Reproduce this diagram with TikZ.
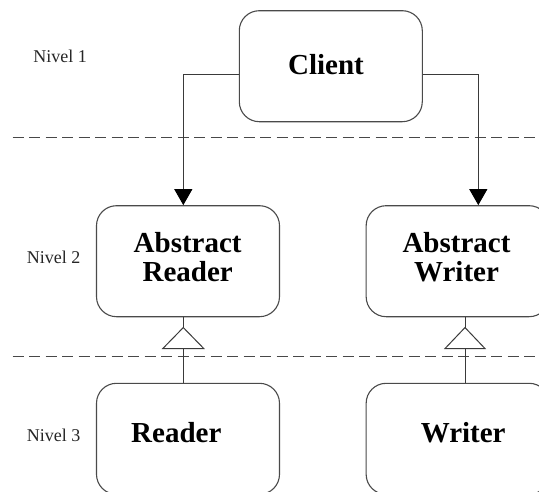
\documentclass[tikz,border=0pt]{standalone}
\usepackage{fontspec}
\setmainfont{Liberation Serif}
\usetikzlibrary{arrows.meta}
\definecolor{lc}{HTML}{3A3A3A}
\definecolor{bc}{HTML}{4A4A4A}
\definecolor{dc}{HTML}{484848}
\tikzset{
  box/.style={draw=bc, line width=1.1pt, rounded corners=20pt, minimum width=183pt, minimum height=111pt, inner sep=0pt},
  btext/.style={font=\fontsize{29}{29.4}\selectfont\bfseries, align=center, inner sep=0pt},
  lvl/.style={font=\fontsize{18}{20}\selectfont, text=black!85, inner sep=0pt, anchor=base west},
  conn/.style={draw=lc, line width=1pt},
  arr/.style={conn, -{Triangle[length=16pt,width=18pt,color=black]}},
  sep/.style={draw=dc, line width=1.3pt, dash pattern=on 11pt off 5.5pt},
}
\begin{document}
\begin{tikzpicture}[x=1pt,y=-1pt]
\clip (0,0) rectangle (539,491);
\fill[white] (0,0) rectangle (539,491);
% separators
\coordinate (s1a) at (12.7,137.3);
\coordinate (s1b) at (539,137.3);
\coordinate (s2a) at (12.7,356.7);
\coordinate (s2b) at (539,356.7);
\draw[sep] (s1a) -- (s1b);
\draw[sep] (s2a) -- (s2b);
% level labels
\node[lvl] (n1) at (33.3,62.3) {Nivel 1};
\node[lvl] (n2) at (26.7,263.3) {Nivel 2};
\node[lvl] (n3) at (26.7,441.7) {Nivel 3};
% boxes
\node[box] (client) at (330.8,66.2) {};
\node[box] (areader) at (188,261.2) {};
\node[box] (awriter) at (457.65,261.2) {};
\node[box] (reader) at (188,438.8) {};
\node[box] (writer) at (457.65,438.8) {};
% texts
\node[btext, anchor=base] (clientt) at (326,74) {Client};
\node[btext] (areadert) at (187.7,257.2) {Abstract\\Reader};
\node[btext] (awritert) at (456.5,257.2) {Abstract\\Writer};
\node[btext, anchor=base] (readert) at (176.3,442.7) {Reader};
\node[btext, anchor=base] (writert) at (463.2,442.7) {Writer};
% client arrows
\draw[arr] ([yshift=-7.8pt]client.west) -| ([xshift=-4.7pt]areader.north);
\draw[arr] ([yshift=-7.8pt]client.east) -| ([xshift=20.65pt]awriter.north);
% inheritance reader
\coordinate (rapex) at ([xshift=-4.7pt,yshift=-10.3pt]areader.south);
\coordinate (rbase) at ([xshift=-4.7pt,yshift=-31.3pt]areader.south);
\draw[conn] (reader.north -| rapex) -- (rbase);
\draw[conn] (areader.south -| rapex) -- (rapex);
\draw[conn, fill=white] (rapex) -- ([xshift=-20.5pt]rbase) -- ([xshift=20.5pt]rbase) -- cycle;
% inheritance writer
\coordinate (wapex) at ([xshift=7.35pt,yshift=-10.3pt]awriter.south);
\coordinate (wbase) at ([xshift=7.35pt,yshift=-31.3pt]awriter.south);
\draw[conn] (writer.north -| wapex) -- (wbase);
\draw[conn] (awriter.south -| wapex) -- (wapex);
\draw[conn, fill=white] (wapex) -- ([xshift=-20pt]wbase) -- ([xshift=20pt]wbase) -- cycle;
\end{tikzpicture}
\end{document}
